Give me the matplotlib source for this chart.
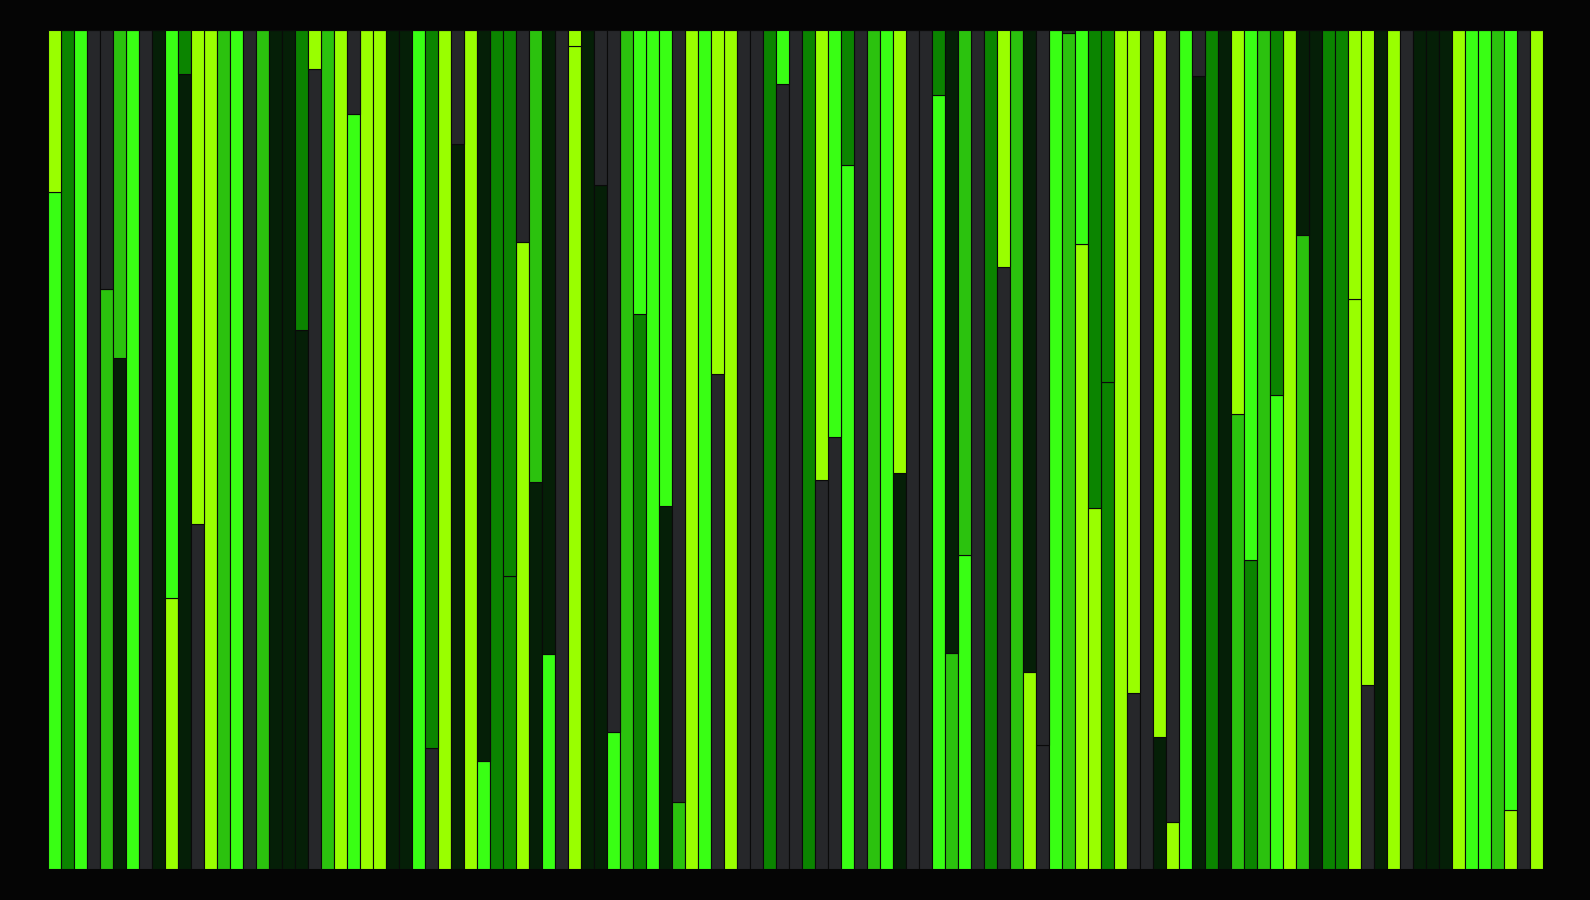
import matplotlib
matplotlib.use("Agg")
import matplotlib.pyplot as plt
import numpy as np

# colour codes used by the bars
palette = {
    "A": "#99ff00",  # yellow green
    "B": "#39ff14",  # neon green
    "C": "#2bc20e",  # mid green
    "D": "#0b8400",  # dark green
    "E": "#051f07",  # near black green
    "F": "#26272a",  # dark grey
}

# share of the lower segment in each bar (1.0 = bar has one colour only)
bottom_share = [
    0.807, 1.0, 1.0, 1.0, 0.691, 0.609, 1.0, 1.0, 1.0, 0.323,
    0.947, 0.412, 1.0, 1.0, 1.0, 1.0, 1.0, 1.0, 1.0, 0.642,
    0.954, 1.0, 1.0, 0.900, 1.0, 1.0, 1.0, 1.0, 1.0, 0.144,
    1.0, 0.864, 1.0, 0.129, 1.0, 0.350, 0.747, 0.462, 0.256, 1.0,
    0.981, 1.0, 0.815, 0.164, 1.0, 0.662, 1.0, 0.433, 0.080, 1.0,
    1.0, 0.590, 1.0, 1.0, 1.0, 1.0, 0.936, 1.0, 1.0, 0.464,
    0.515, 0.839, 1.0, 1.0, 1.0, 0.472, 1.0, 1.0, 0.922, 0.258,
    0.375, 1.0, 1.0, 0.718, 1.0, 0.235, 0.148, 1.0, 0.996, 0.745,
    0.431, 0.580, 1.0, 0.210, 1.0, 0.158, 0.056, 1.0, 0.945, 1.0,
    1.0, 0.543, 0.368, 1.0, 0.565, 1.0, 0.756, 1.0, 1.0, 1.0,
    0.679, 0.219, 1.0, 1.0, 1.0, 1.0, 1.0, 1.0, 1.0, 1.0,
    1.0, 1.0, 0.071, 1.0, 1.0,
]

bottom_colour = list(
    "BDBFCEBFEA"
    "EFACBFCEEE"
    "FCABAAEEBF"
    "AEABDDAEBF"
    "AEEBCDBECA"
    "BFAFFDFFDF"
    "FBFCBEFFBC"
    "BFDFCAFBCA"
    "ADAFFEABED"
    "ECDCBACEDD"
    "AFEAFEEEAB"
    "BCAFA"
)

top_colour = list(
    "ADBFFCBFEB"
    "DAACBFCEED"
    "ACAFAAEEBD"
    "AFAEDDFCEF"
    "AEFFCBBBFA"
    "BAAFFDBFDA"
    "BDFCBAFFDE"
    "CFDACEFBFB"
    "DDAAFAFBFD"
    "EABCDAEEDD"
    "AAEAFEEEAB"
    "BCBFA"
)

fig = plt.figure(figsize=(15.9, 9), dpi=100, facecolor="#050505")
ax = fig.add_axes([0.0302, 0.0341, 0.9403, 0.9326])
ax.set_facecolor("#050505")

x = np.arange(len(bottom_share))
low = np.array(bottom_share)
high = 1.0 - low

ax.bar(x, low, width=1.0, color=[palette[c] for c in bottom_colour],
       edgecolor="#0a0a0a", linewidth=0.8)
ax.bar(x, high, bottom=low, width=1.0, color=[palette[c] for c in top_colour],
       edgecolor="#0a0a0a", linewidth=0.8)

ax.set_xlim(-0.5, len(x) - 0.5)
ax.set_ylim(0, 1)
ax.axis("off")

fig.savefig("out.png", dpi=100, facecolor=fig.get_facecolor())
